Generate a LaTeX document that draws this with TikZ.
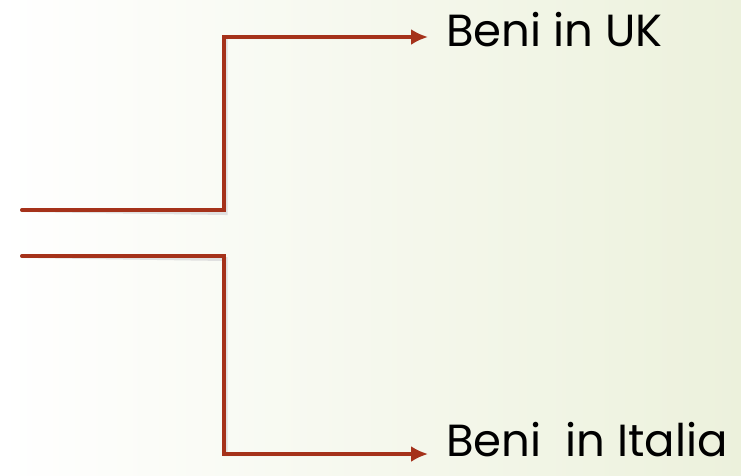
\documentclass[tikz,border=0pt]{standalone}
\usepackage{fontspec}
\setmainfont{Poppins}
\usetikzlibrary{positioning,arrows.meta}
\definecolor{rust}{HTML}{A5321A}
\definecolor{paleolive}{HTML}{ECF1DC}
\begin{document}
\begin{tikzpicture}[x=1pt,y=-1pt,
                   branch/.style={draw=rust,line width=4pt,line cap=round,
                   -{Latex[length=17pt,width=16pt]}},
                   shadowline/.style={branch,draw=black!12,shift={(1.5,3)}},
                   every node/.style = {shape=rectangle,
                   inner sep=0pt,font=\fontsize{45}{48}\selectfont}]
  \shade[left color=white,right color=paleolive] (0,0) rectangle (741,475);
  \useasboundingbox (0,0) rectangle (741,475);
  \coordinate (in1) at (22,210);
  \coordinate (in2) at (22,256);
  \node[anchor=base west] (uk) at (446,46) {Beni in UK};
  \node[anchor=base west] (ita) at (446,456) {Beni\ \ in Italia};
  \coordinate (uktip) at (428,37);
  \coordinate (itatip) at (428,454);
  % shadows
  \draw[shadowline] (in1) -- (224,210) |- (uktip);
  \draw[shadowline] (in2) -- (224,256) |- (itatip);
  % branches
  \draw[branch] (in1) -- (224,210) |- (uktip);
  \draw[branch] (in2) -- (224,256) |- (itatip);
\end{tikzpicture}
\end{document}
